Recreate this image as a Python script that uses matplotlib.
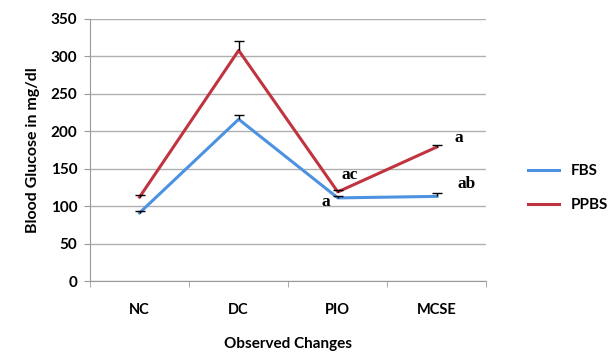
import matplotlib.pyplot as plt
import numpy as np

categorias = ['NC', 'DC', 'PIO', 'MCSE']
fbs = [91, 216, 111, 113]
ppbs = [112, 308, 119, 179]
fbs_err = [3, 6, 2, 4]
ppbs_err = [3, 13, 2, 3]

plt.rcParams['font.family'] = ['Lato', 'DejaVu Sans']

fig = plt.figure(figsize=(6.1, 3.64), dpi=100)
ax = fig.add_axes([0.1475, 0.228, 0.65, 0.72])

x = np.arange(len(categorias))
gris = '#9a9a9a'

for y, err, color, label in [(fbs, fbs_err, '#4d92e0', 'FBS'),
                             (ppbs, ppbs_err, '#c0343f', 'PPBS')]:
    ax.plot(x, y, color=color, lw=2.2, label=label, zorder=3)
    _, caps, _ = ax.errorbar(x, y, yerr=[np.zeros(len(y)), err], fmt='none',
                             ecolor='black', elinewidth=1, capsize=3.5, zorder=4)
    caps[0].set_visible(False)

# letras de significancia
txt = dict(family=['Liberation Serif'], fontweight='bold', fontsize=12.5)
ax.text(1.88, 105, 'a', ha='center', va='center', **txt)
ax.text(2.12, 141, 'ac', ha='center', va='center', **txt)
ax.text(3.22, 191, 'a', ha='center', va='center', **txt)
ax.text(3.3, 129, 'ab', ha='center', va='center', **txt)

ax.set_xlim(-0.5, 3.5)
ax.set_ylim(0, 350)
ax.set_yticks(range(0, 351, 50))
ax.set_xticks(x)
ax.set_xticklabels(categorias, fontweight='bold', fontsize=10.5)
ax.set_xticks(np.arange(-0.5, 3.6, 1), minor=True)
ax.tick_params(axis='x', which='major', length=0, pad=16)
ax.tick_params(axis='x', which='minor', length=4, color=gris)
ax.tick_params(axis='y', length=4, color=gris, labelsize=11, pad=5)
for lbl in ax.get_yticklabels():
    lbl.set_fontweight('bold')

ax.grid(axis='y', color='#b0b0b0', lw=1)
ax.set_axisbelow(True)
for s in ['top', 'right']:
    ax.spines[s].set_visible(False)
ax.spines['left'].set_color(gris)
ax.spines['bottom'].set_color(gris)

ax.set_xlabel('Observed Changes', fontweight='bold', fontsize=11, labelpad=14)
ax.set_ylabel('Blood Glucose in mg/dl', fontweight='bold', fontsize=11.5, labelpad=8)

ax.legend(loc='center left', bbox_to_anchor=(1.07, 0.355), frameon=False,
          handlelength=2.0, labelspacing=1.3,
          prop=dict(family='Lato', weight='bold', size=11))

fig.savefig('out.png', dpi=100)
